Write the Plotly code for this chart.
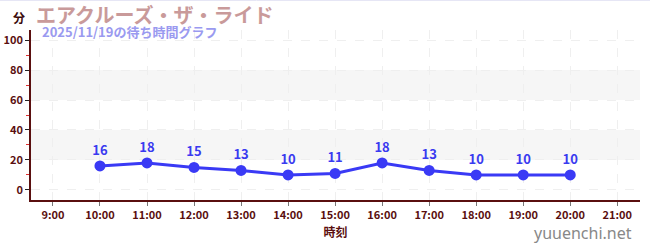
import plotly.graph_objects as go

times = ["10:00", "11:00", "12:00", "13:00", "14:00", "15:00", "16:00", "17:00", "18:00", "19:00", "20:00"]
waits = [16, 18, 15, 13, 10, 11, 18, 13, 10, 10, 10]
tick_hours = ["9:00", "10:00", "11:00", "12:00", "13:00", "14:00", "15:00", "16:00", "17:00", "18:00", "19:00", "20:00", "21:00"]
title = "エアクルーズ・ザ・ライド"
subtitle = "2025/11/19の待ち時間グラフ"

day = "2025-11-19 "
xs = [day + t for t in times]
tickvals = [day + t for t in tick_hours]

font = "Noto Sans CJK JP"
axis_col = "#5a0f0f"

fig = go.Figure()
fig.add_trace(go.Scatter(
    x=xs, y=waits, mode="lines+markers+text",
    text=[str(v) for v in waits], textposition="top center",
    textfont=dict(color="#3a3af0", size=13, family=font, weight="bold"),
    line=dict(color="#3a3af5", width=3),
    marker=dict(color="#3a3af5", size=11),
    cliponaxis=False, hoverinfo="skip",
))

for y0, y1 in [(20, 40), (60, 80)]:
    fig.add_shape(type="rect", xref="paper", x0=0, x1=1, yref="y", y0=y0, y1=y1,
                  fillcolor="#f6f6f6", line_width=0, layer="below")

fig.update_layout(
    width=650, height=250,
    margin=dict(l=31, r=10, t=30, b=50),
    plot_bgcolor="white", paper_bgcolor="white",
    showlegend=False,
    font=dict(family=font, color=axis_col),
    xaxis=dict(
        type="date", automargin=False,
        range=[day + "08:32", day + "21:29"],
        tickvals=tickvals, ticktext=tick_hours,
        tickfont=dict(size=11, color=axis_col, weight="bold"),
        showline=True, linecolor=axis_col, linewidth=1.5,
        ticks="outside", ticklen=4, tickcolor="#777",
        showgrid=True, gridcolor="#efefef", griddash="dash", gridwidth=1,
        zeroline=False,
        title=dict(text="時刻", font=dict(size=12, color=axis_col, weight="bold"), standoff=8),
    ),
    yaxis=dict(
        automargin=False,
        range=[-6.7, 106.7],
        tickvals=[0, 20, 40, 60, 80, 100],
        tickfont=dict(size=11, color=axis_col, weight="bold"),
        showline=True, linecolor=axis_col, linewidth=1.5,
        ticks="outside", ticklen=4, tickcolor="#222",
        showgrid=True, gridcolor="#efefef", griddash="dash", gridwidth=1,
        zeroline=False,
        minor=dict(tickvals=[10, 30, 50, 70, 90], ticks="outside", ticklen=3, tickcolor="#e03030", showgrid=False),
    ),
)

fig.add_shape(type="line", xref="paper", yref="paper", x0=-31/609, x1=1 + 10/609, y0=199.5/170, y1=199.5/170,
              line=dict(color="#e6e6f5", width=1))

fig.add_annotation(text=title, xref="paper", yref="paper", x=3/609, y=(200 - 14.5) / 170, xanchor="left", yanchor="middle",
                   showarrow=False, font=dict(size=20, color="#c99a9a", family=font, weight="bold"))
fig.add_annotation(text="分", xref="paper", yref="paper", x=-4/609, y=(200 - 17) / 170, xanchor="right", yanchor="middle",
                   showarrow=False, font=dict(size=12, color="#3a0a0a", family=font, weight="bold"))
fig.add_annotation(text=subtitle, xref="paper", yref="paper", x=9/609, y=(200 - 31.5) / 170, xanchor="left", yanchor="middle",
                   showarrow=False, font=dict(size=13, color="#9a9af0", family=font, weight="bold"))
fig.add_annotation(text="yuuenchi.net", xref="paper", yref="paper", x=1, y=(200 - 233) / 170, xanchor="right", yanchor="middle",
                   xshift=-6, showarrow=False, font=dict(size=16, color="#888888", family="Noto Sans"))

fig.write_html("out.html")
